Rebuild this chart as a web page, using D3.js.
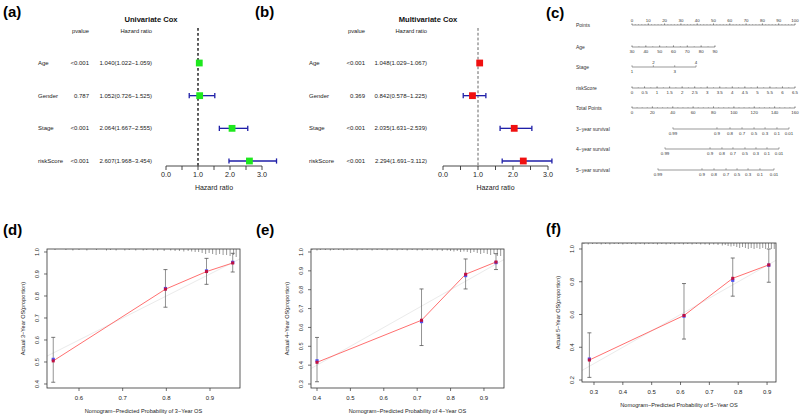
<!DOCTYPE html>
<html><head><meta charset="utf-8">
<script src="https://cdn.jsdelivr.net/npm/d3@7"></script>
<style>body{margin:0;background:#fff}svg{display:block;font-family:"Liberation Sans",Arial,sans-serif}</style>
</head><body><svg id="c" width="800" height="417"></svg>
<script>
// ---------- DATA ----------
const coxVars = ["Age","Gender","Stage","riskScore"];
const uniP = ["<0.001","0.787","<0.001","<0.001"];
const uniHR = [1.040,1.052,2.064,2.607];
const uniLow = [1.022,0.726,1.667,1.968];
const uniHigh = [1.059,1.525,2.555,3.454];
const multiP = ["<0.001","0.369","<0.001","<0.001"];
const multiHR = [1.048,0.842,2.035,2.294];
const multiLow = [1.029,0.578,1.631,1.691];
const multiHigh = [1.067,1.225,2.539,3.112];
const hrTicks = [0,0.5,1,1.5,2,2.5,3];
const hrTickLabels = ["0.0","","1.0","","2.0","","3.0"];

// nomogram
const pointTicks = [0,10,20,30,40,50,60,70,80,90,100];
const ageTicks = [30,40,50,60,70,80,90];
const ageRange = [30,90], agePoints = [0,50.9];
const stageVals = [1,2,3,4], stageRange=[1,4], stagePoints = [0,39.3];
const stageAbove = [false,true,false,true];
const riskTicks = [0,0.5,1,1.5,2,2.5,3,3.5,4,4.5,5,5.5,6,6.5];
const riskTickLabels = ["0","0.5","1","1.5","2","2.5","3","3.5","4","4.5","5","5.5","6","6.5"];
const riskRange = [0,6.5], riskPoints = [0,100];
const totalTicks = [0,20,40,60,80,100,120,140,160];
const survLabels = ["0.99","0.9","0.8","0.7","0.5","0.3","0.1","0.01"];
const surv3Total = [40.2,83.4,96.2,108,119.8,130.6,142.3,154.1];
const surv4Total = [32.4,76.6,88.3,99.1,110.9,121.7,132.5,144.3];
const surv5Total = [25.5,68.7,80.5,92.3,103.1,113.9,125.6,139.4];
const nomoRows = ["Points","Age","Stage","riskScore","Total Points","3−year survival","4−year survival","5−year survival"];

// calibration
const cal3X = [0.541,0.798,0.892,0.952];
const cal3Y = [0.505,0.831,0.911,0.950];
const cal3Yb = [0.512,0.834,0.914,0.953];
const cal3Lo = [0.408,0.749,0.853,0.909];
const cal3Hi = [0.612,0.920,0.971,0.994];
const cal4X = [0.400,0.713,0.845,0.936];
const cal4Y = [0.415,0.638,0.882,0.947];
const cal4Yb = [0.423,0.631,0.875,0.944];
const cal4Lo = [0.312,0.504,0.804,0.907];
const cal4Hi = [0.547,0.804,0.963,0.991];
const cal5X = [0.284,0.612,0.781,0.906];
const cal5Y = [0.322,0.594,0.821,0.903];
const cal5Yb = [0.328,0.590,0.809,0.901];
const cal5Lo = [0.216,0.450,0.712,0.797];
const cal5Hi = [0.488,0.789,0.945,1.000];
const cal3XTicks=[0.6,0.7,0.8,0.9], cal3YTicks=[0.4,0.5,0.6,0.7,0.8,0.9,1.0];
const cal4XTicks=[0.4,0.5,0.6,0.7,0.8,0.9], cal4YTicks=[0.3,0.4,0.5,0.6,0.7,0.8,0.9,1.0];
const cal5XTicks=[0.3,0.4,0.5,0.6,0.7,0.8,0.9], cal5YTicks=[0.2,0.4,0.6,0.8,1.0];
const rug3X = [0.545,0.57,0.586,0.60,0.618,0.64,0.663,0.672,0.685,0.705,0.715,0.73,0.747,0.755,0.77,0.78,0.795,0.81,0.82,0.83,0.84,0.85,0.858,0.866,0.874,0.882,0.89,0.898,0.906,0.914,0.922,0.93,0.938,0.946,0.954,0.96];
const rug3H = [1,1,1.5,1,1.5,1,1.5,1,1.5,1.5,1,1.5,1.5,1,1.5,1.5,2,1.5,2,2,2.5,2,2.5,3,3,4,5,4,5,6,5,6,6,7,6,8];
const rug4X = [0.385,0.40,0.41,0.425,0.44,0.45,0.465,0.48,0.49,0.505,0.52,0.535,0.55,0.565,0.58,0.595,0.61,0.625,0.64,0.655,0.67,0.685,0.70,0.715,0.73,0.745,0.76,0.775,0.79,0.80,0.81,0.82,0.83,0.84,0.85,0.86,0.87,0.88,0.89,0.90,0.91,0.92,0.93,0.94,0.95];
const rug4H = [1,1.5,1,1,1.5,1,1,1.5,1,1,1.5,1,1,1.5,1,1,1.5,1,1.5,1,1.5,1,1.5,1.5,1,1.5,1.5,2,1.5,2,2.5,2,3,2.5,3,4,3,4,5,4,5,6,5,7,7];
const rug5X = [0.265,0.28,0.295,0.31,0.325,0.34,0.355,0.37,0.385,0.40,0.415,0.43,0.445,0.46,0.475,0.49,0.505,0.52,0.535,0.55,0.565,0.58,0.595,0.61,0.625,0.64,0.655,0.67,0.685,0.70,0.715,0.73,0.745,0.755,0.765,0.775,0.785,0.795,0.805,0.815,0.825,0.835,0.845,0.855,0.865,0.875,0.885,0.895,0.905,0.915,0.925];
const rug5H = [1,1.5,1,1,1.5,1,1.5,1,1,1.5,1,1,1.5,1,1.5,1,1,1.5,1,1.5,1,1.5,1,1.5,1,1.5,1,1.5,1.5,2,1.5,2,2.5,2,3,3.5,3,4,5,4,5,6,5,6,5,6,5,6,5,6,6];

// ---------- DRAW ----------
const svg = d3.select("#c");
svg.append("rect").attr("width",800).attr("height",417).attr("fill","#fff");

function panelLabel(t,x,y){
  svg.append("text").attr("x",x).attr("y",y).attr("font-size",15).attr("font-weight","bold").attr("fill","#000").text(t);
}
panelLabel("(a)",3,17); panelLabel("(b)",255,17); panelLabel("(c)",546,18);
panelLabel("(d)",3,235); panelLabel("(e)",256,235); panelLabel("(f)",546,234);

// forest plots
function forest(o){
  const g = svg.append("g");
  const x = d3.scaleLinear().domain([0,3]).range([o.x0,o.x3]);
  const rowY = d3.scalePoint().domain(coxVars).range([63,161]);
  g.append("text").attr("x",o.titleX).attr("y",22).attr("text-anchor","middle")
    .attr("font-size",7.6).attr("font-weight","bold").attr("fill","#111").text(o.title);
  g.append("text").attr("x",o.pX).attr("y",33).attr("text-anchor","end").attr("font-size",5.8).attr("fill","#222").text("pvalue");
  g.append("text").attr("x",o.hrX).attr("y",33).attr("text-anchor","end").attr("font-size",5.8).attr("fill","#222").text("Hazard ratio");
  coxVars.forEach((v,i)=>{
    const y = rowY(v);
    g.append("text").attr("x",o.labX).attr("y",y+2).attr("font-size",6).attr("fill","#222").text(v);
    g.append("text").attr("x",o.pX).attr("y",y+2).attr("text-anchor","end").attr("font-size",6).attr("fill","#222").text(o.p[i]);
    g.append("text").attr("x",o.hrX).attr("y",y+2).attr("text-anchor","end").attr("font-size",6).attr("fill","#222")
      .text(`${o.hr[i].toFixed(3)}(${o.lo[i].toFixed(3)}−${o.hi[i].toFixed(3)})`);
  });
  g.append("line").attr("x1",x(1)).attr("x2",x(1)).attr("y1",28).attr("y2",166)
    .attr("stroke",o.dashCol).attr("stroke-width",o.dashW).attr("stroke-dasharray",o.dash);
  coxVars.forEach((v,i)=>{
    const y=rowY(v);
    g.append("line").attr("x1",x(o.lo[i])).attr("x2",x(o.hi[i])).attr("y1",y).attr("y2",y).attr("stroke","#1f1fa8").attr("stroke-width",1.3);
    [o.lo[i],o.hi[i]].forEach(e=>g.append("line").attr("x1",x(e)).attr("x2",x(e)).attr("y1",y-2.6).attr("y2",y+2.6).attr("stroke","#1f1fa8").attr("stroke-width",1.3));
    g.append("rect").attr("x",x(o.hr[i])-3.4).attr("y",y-3.4).attr("width",6.8).attr("height",6.8).attr("fill",o.col);
  });
  const ax = g.append("g").attr("transform","translate(0,166)");
  ax.append("line").attr("x1",x(0)).attr("x2",x(3)).attr("stroke","#333").attr("stroke-width",0.9);
  hrTicks.forEach((t,i)=>{
    ax.append("line").attr("x1",x(t)).attr("x2",x(t)).attr("y1",0).attr("y2",4).attr("stroke","#333").attr("stroke-width",0.9);
    if(hrTickLabels[i]) ax.append("text").attr("x",x(t)).attr("y",11).attr("text-anchor","middle").attr("font-size",7.2).attr("fill","#222").text(hrTickLabels[i]);
  });
  g.append("text").attr("x",(x(0)+x(3))/2).attr("y",190).attr("text-anchor","middle").attr("font-size",7).attr("fill","#222").text("Hazard ratio");
}
forest({title:"Univariate Cox",titleX:151,labX:38,pX:89,hrX:152,x0:166,x3:262,p:uniP,hr:uniHR,lo:uniLow,hi:uniHigh,col:"#1ee81e",dashCol:"#333",dashW:1.6,dash:"2.8,2.2"});
forest({title:"Multivariate Cox",titleX:428,labX:309,pX:365,hrX:427,x0:443,x3:548,p:multiP,hr:multiHR,lo:multiLow,hi:multiHigh,col:"#f01010",dashCol:"#555",dashW:0.9,dash:"2.8,2"});

// nomogram
(function(){
  const g = svg.append("g");
  const pts = d3.scaleLinear().domain([0,100]).range([632,795]);
  const tot = d3.scaleLinear().domain([0,160]).range([632,795]);
  const rowYs = [25,47,67,88,108,129,149,170];
  const tc = "#333", fsL = 5, fsT = 4.4;
  nomoRows.forEach((r,i)=>g.append("text").attr("x",576).attr("y",rowYs[i]+1.6).attr("font-size",fsL).attr("fill",tc).text(r));
  function axis(y, positions, labels, minor, above){
    const xs = positions;
    g.append("line").attr("x1",d3.min(xs)).attr("x2",d3.max(xs)).attr("y1",y).attr("y2",y).attr("stroke","#555").attr("stroke-width",0.6);
    (minor||[]).forEach(m=>g.append("line").attr("x1",m).attr("x2",m).attr("y1",y).attr("y2",y-1).attr("stroke","#666").attr("stroke-width",0.4));
    xs.forEach((p,i)=>{
      g.append("line").attr("x1",p).attr("x2",p).attr("y1",y).attr("y2",y-1.8).attr("stroke","#555").attr("stroke-width",0.5);
      const lblAbove = Array.isArray(above) ? above[i] : (above===true);
      g.append("text").attr("x",p).attr("y",lblAbove? y-3.2 : y+6.3).attr("text-anchor","middle").attr("font-size",fsT).attr("fill",tc).text(labels[i]);
    });
  }
  axis(rowYs[0], pointTicks.map(pts), pointTicks.map(String), d3.range(0,101,2).map(pts), true);
  const ageS = d3.scaleLinear().domain(ageRange).range(agePoints);
  axis(rowYs[1], ageTicks.map(a=>pts(ageS(a))), ageTicks.map(String), d3.range(30,91,5).map(a=>pts(ageS(a))), false);
  const stS = d3.scaleLinear().domain(stageRange).range(stagePoints);
  axis(rowYs[2], stageVals.map(s=>pts(stS(s))), stageVals.map(String), null, stageAbove);
  const rS = d3.scaleLinear().domain(riskRange).range(riskPoints);
  axis(rowYs[3], riskTicks.map(r=>pts(rS(r))), riskTickLabels, d3.range(0,6.51,0.25).map(r=>pts(rS(r))), false);
  axis(rowYs[4], totalTicks.map(tot), totalTicks.map(String), d3.range(0,161,5).map(tot), false);
  axis(rowYs[5], surv3Total.map(tot), survLabels, null, false);
  axis(rowYs[6], surv4Total.map(tot), survLabels, null, false);
  axis(rowYs[7], surv5Total.map(tot), survLabels, null, false);
})();

// calibration
function calib(o){
  const g = svg.append("g");
  const x = d3.scaleLinear().domain(o.xd).range([o.l,o.r]);
  const y = d3.scaleLinear().domain(o.yd).range([o.b,o.t]);
  const cid = "clip"+o.id;
  g.append("clipPath").attr("id",cid).append("rect").attr("x",o.l).attr("y",o.t).attr("width",o.r-o.l).attr("height",o.b-o.t);
  const lo = Math.max(o.xd[0],o.yd[0]), hi = Math.min(o.xd[1],o.yd[1]);
  g.append("line").attr("clip-path",`url(#${cid})`).attr("x1",x(lo)).attr("y1",y(lo)).attr("x2",x(hi)).attr("y2",y(hi)).attr("stroke","#ebebeb").attr("stroke-width",1);
  o.rx.forEach((v,i)=>g.append("line").attr("x1",x(v)).attr("x2",x(v)).attr("y1",o.t).attr("y2",o.t+o.rh[i]).attr("stroke","#555").attr("stroke-width",0.6));
  o.X.forEach((v,i)=>{
    g.append("line").attr("x1",x(v)).attr("x2",x(v)).attr("y1",y(o.lo[i])).attr("y2",y(o.hi[i])).attr("stroke","#777").attr("stroke-width",0.8);
    [o.lo[i],o.hi[i]].forEach(e=>g.append("line").attr("x1",x(v)-2).attr("x2",x(v)+2).attr("y1",y(e)).attr("y2",y(e)).attr("stroke","#555").attr("stroke-width",0.8));
  });
  g.append("path").attr("d",d3.line().x((d,i)=>x(o.X[i])).y((d,i)=>y(o.Y[i]))(o.X)).attr("fill","none").attr("stroke","#ff7070").attr("stroke-width",1);
  o.X.forEach((v,i)=>{
    g.append("rect").attr("x",x(v)-1.6).attr("y",y(o.Yb[i])-1.6).attr("width",3.2).attr("height",3.2).attr("fill","#5050f0");
    g.append("rect").attr("x",x(v)-1.5).attr("y",y(o.Y[i])-1.5).attr("width",3).attr("height",3).attr("fill","#c01040");
  });
  g.append("rect").attr("x",o.l).attr("y",o.t).attr("width",o.r-o.l).attr("height",o.b-o.t).attr("fill","none").attr("stroke","#333").attr("stroke-width",0.8);
  o.xt.forEach(t=>{
    g.append("line").attr("x1",x(t)).attr("x2",x(t)).attr("y1",o.b).attr("y2",o.b+3).attr("stroke","#333").attr("stroke-width",0.7);
    g.append("text").attr("x",x(t)).attr("y",o.b+12).attr("text-anchor","middle").attr("font-size",6).attr("fill","#222").text(t.toFixed(1));
  });
  o.yt.forEach(t=>{
    g.append("line").attr("x1",o.l).attr("x2",o.l-3).attr("y1",y(t)).attr("y2",y(t)).attr("stroke","#333").attr("stroke-width",0.7);
    g.append("text").attr("transform",`translate(${o.l-8},${y(t)}) rotate(-90)`).attr("text-anchor","middle").attr("font-size",5.6).attr("fill","#222").text(t.toFixed(1));
  });
  g.append("text").attr("x",(o.l+o.r)/2).attr("y",o.b+25).attr("text-anchor","middle").attr("font-size",5.6).attr("fill","#222").text(o.xlab);
  g.append("text").attr("transform",`translate(${o.l-22},${(o.t+o.b)/2}) rotate(-90)`).attr("text-anchor","middle").attr("font-size",5.6).attr("fill","#222").text(o.ylab);
}
calib({id:"d",l:47,r:240,t:249,b:388,xd:[0.5267,0.9687],yd:[0.3818,1.0136],X:cal3X,Y:cal3Y,Yb:cal3Yb,lo:cal3Lo,hi:cal3Hi,xt:cal3XTicks,yt:cal3YTicks,rx:rug3X,rh:rug3H,
  xlab:"Nomogram−Predicted Probability of 3−Year OS",ylab:"Actual 3−Year OS(proportion)"});
calib({id:"e",l:311,r:504,t:249,b:388,xd:[0.382,0.960],yd:[0.2788,1.0159],X:cal4X,Y:cal4Y,Yb:cal4Yb,lo:cal4Lo,hi:cal4Hi,xt:cal4XTicks,yt:cal4YTicks,rx:rug4X,rh:rug4H,
  xlab:"Nomogram−Predicted Probability of 4−Year OS",ylab:"Actual 4−Year OS(proportion)"});
calib({id:"f",l:582,r:776,t:243,b:382,xd:[0.2584,0.931],yd:[0.1878,1.0366],X:cal5X,Y:cal5Y,Yb:cal5Yb,lo:cal5Lo,hi:cal5Hi,xt:cal5XTicks,yt:cal5YTicks,rx:rug5X,rh:rug5H,
  xlab:"Nomogram−Predicted Probability of 5−Year OS",ylab:"Actual 5−Year OS(proportion)"});
</script></body></html>
